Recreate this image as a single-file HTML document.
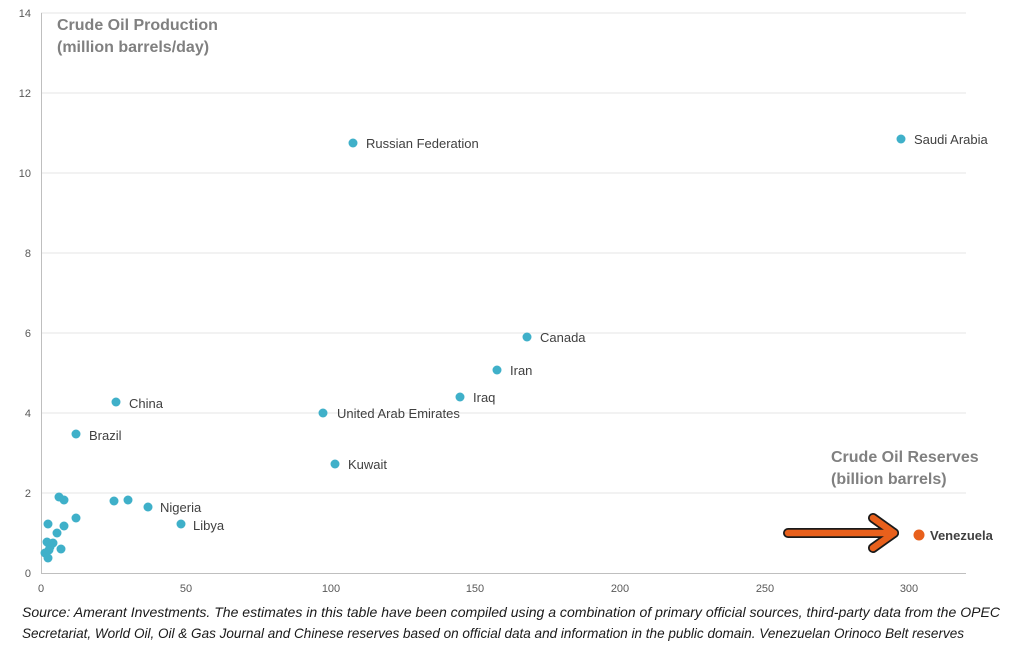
<!DOCTYPE html>
<html><head><style>
body{margin:0;background:#fff;width:1020px;height:647px;overflow:hidden;font-family:"Liberation Sans",sans-serif}
</style></head><body>
<svg width="1020" height="647" xmlns="http://www.w3.org/2000/svg" font-family="Liberation Sans, sans-serif">
<g stroke="#e6e6e6" stroke-width="1">
<line x1="41" y1="13" x2="966" y2="13"/><line x1="41" y1="93" x2="966" y2="93"/><line x1="41" y1="173" x2="966" y2="173"/><line x1="41" y1="253" x2="966" y2="253"/><line x1="41" y1="333" x2="966" y2="333"/><line x1="41" y1="413" x2="966" y2="413"/><line x1="41" y1="493" x2="966" y2="493"/>
</g>
<line x1="41" y1="573.5" x2="966" y2="573.5" stroke="#bfbfbf"/>
<line x1="41.5" y1="13" x2="41.5" y2="573" stroke="#bfbfbf"/>
<g font-size="11" fill="#595959" text-anchor="end">
<text x="31" y="17">14</text><text x="31" y="97">12</text><text x="31" y="177">10</text><text x="31" y="257">8</text><text x="31" y="337">6</text><text x="31" y="417">4</text><text x="31" y="497">2</text><text x="31" y="577">0</text>
</g>
<g font-size="11" fill="#595959" text-anchor="middle">
<text x="41" y="592">0</text><text x="186" y="592">50</text><text x="331" y="592">100</text><text x="475" y="592">150</text><text x="620" y="592">200</text><text x="765" y="592">250</text><text x="909" y="592">300</text>
</g>
<g font-size="16" font-weight="bold" fill="#808080">
<text x="57" y="30">Crude Oil Production</text><text x="57" y="52">(million barrels/day)</text>
<text x="831" y="462">Crude Oil Reserves</text><text x="831" y="484">(billion barrels)</text>
</g>
<g fill="#3fb0c9">
<circle cx="353" cy="143" r="4.5"/><circle cx="901" cy="139" r="4.5"/><circle cx="527" cy="337" r="4.5"/><circle cx="497" cy="370" r="4.5"/><circle cx="460" cy="397" r="4.5"/><circle cx="116" cy="402" r="4.5"/><circle cx="323" cy="413" r="4.5"/><circle cx="76" cy="434" r="4.5"/><circle cx="335" cy="464" r="4.5"/>
<circle cx="59" cy="497" r="4.5"/><circle cx="64" cy="500" r="4.5"/><circle cx="114" cy="501" r="4.5"/><circle cx="128" cy="500" r="4.5"/><circle cx="148" cy="507" r="4.5"/><circle cx="181" cy="524" r="4.5"/><circle cx="76" cy="518" r="4.5"/><circle cx="48" cy="524" r="4.5"/><circle cx="64" cy="526" r="4.5"/><circle cx="57" cy="533" r="4.5"/><circle cx="47" cy="542" r="4.5"/><circle cx="53" cy="543" r="4.5"/><circle cx="61" cy="549" r="4.5"/><circle cx="50" cy="547" r="4.5"/><circle cx="45" cy="553" r="4.5"/><circle cx="48" cy="558" r="4.5"/><circle cx="49" cy="550" r="4.5"/>
</g>
<g font-size="13" fill="#404040">
<text x="366" y="148">Russian Federation</text><text x="914" y="144">Saudi Arabia</text><text x="540" y="342">Canada</text><text x="510" y="375">Iran</text><text x="473" y="402">Iraq</text><text x="129" y="408">China</text><text x="337" y="418">United Arab Emirates</text><text x="89" y="440">Brazil</text><text x="348" y="469">Kuwait</text><text x="160" y="512">Nigeria</text><text x="193" y="530">Libya</text>
</g>
<circle cx="919" cy="535" r="5.5" fill="#e8601c"/>
<text x="930" y="540" font-size="13" font-weight="bold" fill="#404040">Venezuela</text>
<path d="M788 533 H894" stroke="#1a1a1a" stroke-width="10" stroke-linecap="round" fill="none"/>
<path d="M873 518 L894 533 L873 548" stroke="#1a1a1a" stroke-width="10" stroke-linecap="round" stroke-linejoin="round" fill="none"/>
<path d="M788 533 H894" stroke="#e8601c" stroke-width="6.5" stroke-linecap="round" fill="none"/>
<path d="M873 518 L894 533 L873 548" stroke="#e8601c" stroke-width="6.5" stroke-linecap="round" stroke-linejoin="round" fill="none"/>
<g font-size="14" font-style="italic" fill="#1a1a1a">
<text x="22" y="617" textLength="978" lengthAdjust="spacingAndGlyphs">Source: Amerant Investments. The estimates in this table have been compiled using a combination of primary official sources, third-party data from the OPEC</text>
<text x="22" y="638" textLength="942" lengthAdjust="spacingAndGlyphs">Secretariat, World Oil, Oil &amp; Gas Journal and Chinese reserves based on official data and information in the public domain. Venezuelan Orinoco Belt reserves</text>
</g>
</svg>
</body></html>
